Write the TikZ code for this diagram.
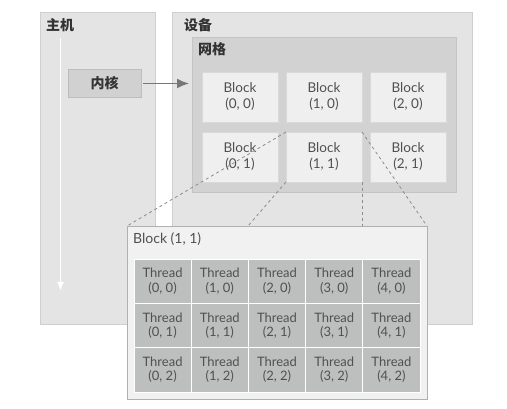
\documentclass[tikz,border=0pt]{standalone}
\usepackage{fontspec}
\setmainfont{Lato}
\newfontfamily\cjk{Noto Sans CJK SC}
\usepackage{xcolor}
\usetikzlibrary{positioning,arrows.meta}

\definecolor{panelgray}{HTML}{E4E4E4}
\definecolor{panelline}{HTML}{CFCFCF}
\definecolor{gridgray}{HTML}{D2D2D2}
\definecolor{gridline}{HTML}{C4C4C4}
\definecolor{blockgray}{HTML}{EFEFEF}
\definecolor{blockline}{HTML}{D9D9D9}
\definecolor{kernelgray}{HTML}{D1D1D1}
\definecolor{kernelline}{HTML}{BDBDBD}
\definecolor{threadgray}{HTML}{BDBFBF}
\definecolor{detailgray}{HTML}{F1F1F1}
\definecolor{detailline}{HTML}{B0B0B0}
\definecolor{textgray}{HTML}{505050}
\definecolor{titlegray}{HTML}{333333}
\definecolor{arrowgray}{HTML}{777777}
\definecolor{zoomgray}{HTML}{8C8C8C}

\tikzset{
  panel/.style={draw=panelline, fill=panelgray, line width=0.8pt, anchor=north west, inner sep=0, outer sep=0},
  title/.style={anchor=north west, inner sep=0, text=titlegray, font=\cjk\bfseries\fontsize{14}{16}\selectfont},
  blockbox/.style={draw=blockline, fill=blockgray, line width=0.8pt, minimum width=76pt, minimum height=50pt,
    inner sep=0, outer sep=0, align=center, text=textgray, font=\fontsize{13.5}{16}\selectfont},
  threadbox/.style={draw=white, fill=threadgray, line width=0.8pt, minimum width=57.2pt, minimum height=44.3pt,
    inner sep=0, outer sep=0, align=center, text=textgray, font=\fontsize{13}{14.5}\selectfont},
  zoomline/.style={draw=zoomgray, dashed, line width=0.8pt}
}

\begin{document}
\begin{tikzpicture}[x=1pt, y=-1pt, node distance=10pt and 8pt]
    \useasboundingbox (0,0) rectangle (507,409);

    % Host and device
    \node[panel, minimum width=115pt, minimum height=312pt] (host) at (40,12) {};
    \node[panel, minimum width=300pt, minimum height=312pt] (device) at (172,12) {};
    \node[title] (hosttitle) at (46,18) {主机};
    \node[title] (devicetitle) at (184,18) {设备};

    % Grid of blocks
    \node[panel, draw=gridline, fill=gridgray, minimum width=264pt, minimum height=155pt] (grid) at (192,37) {};
    \node[title] (gridtitle) at (198,42) {网格};
    \node[blockbox, anchor=north west] (b00) at (202,72) {Block\\(0, 0)};
    \node[blockbox, right=of b00] (b10) {Block\\(1, 0)};
    \node[blockbox, right=of b10] (b20) {Block\\(2, 0)};
    \node[blockbox, below=of b00] (b01) {Block\\(0, 1)};
    \node[blockbox, below=of b10] (b11) {Block\\(1, 1)};
    \node[blockbox, below=of b20] (b21) {Block\\(2, 1)};

    % Kernel
    \node[draw=kernelline, fill=kernelgray, line width=0.8pt, minimum width=73pt, minimum height=28pt, inner sep=0, outer sep=0,
      text=titlegray, font=\cjk\bfseries\fontsize{14}{16}\selectfont] (kernel) at (104.5,83.5) {内核};
    \draw[-{Latex[length=12pt,width=10pt]}, arrowgray, line width=1.6pt, shorten <=2pt, shorten >=3pt]
      (kernel) -- (kernel -| grid.west);

    % Host timeline
    \coordinate (timestart) at (60.5,38);
    \coordinate (timeend) at (60.5,291);
    \draw[-{Latex[length=9pt,width=7pt]}, white, line width=1.5pt] (timestart) -- (timeend);

    % Block (1, 1) in detail
    \node[panel, draw=detailline, fill=detailgray, minimum width=300pt, minimum height=173pt] (detail) at (127,226) {};
    \node[anchor=north west, inner sep=0, text=textgray, font=\fontsize{14}{16}\selectfont] (detailtitle) at (133,232) {Block (1, 1)};
    \foreach \c in {0,...,4}
      \foreach \r in {0,1,2}
        \node[threadbox] (t\c\r) at ({134+57.2*\c+28.6}, {259+44.33*\r+22.17}) {Thread\\(\c, \r)};

    % Zoom lines
    \coordinate (cut) at (248,226);
    \draw[zoomline] (b11.north west) -- (detail.north west);
    \draw[zoomline] (b11.south west) -- (cut);
    \draw[zoomline] (b11.south east) -- (b11.south east |- detail.north);
    \draw[zoomline] (b11.north east) -- (detail.north east);
\end{tikzpicture}
\end{document}
